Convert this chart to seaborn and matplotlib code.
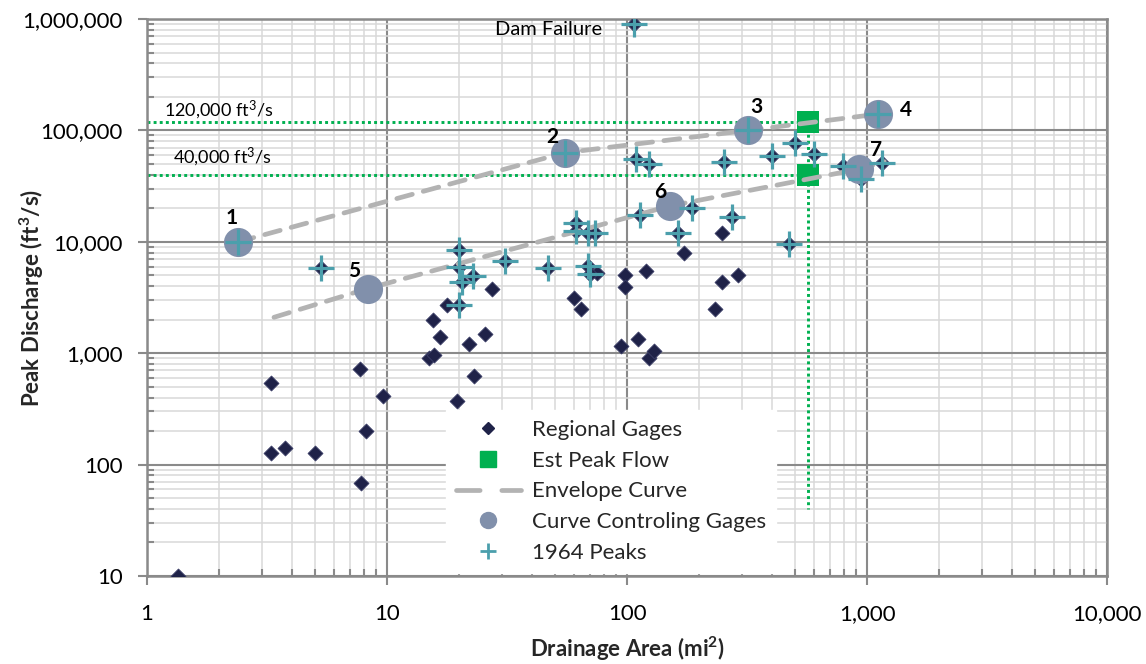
import matplotlib
matplotlib.use("Agg")
import matplotlib.pyplot as plt
from matplotlib.lines import Line2D
from matplotlib.ticker import FixedLocator, FixedFormatter, LogLocator, NullFormatter
import seaborn as sns

# ---- data -------------------------------------------------------------
# Regional gages that are not part of the 1964 flood set (mi², ft³/s)
regional_area = [1.35, 3.3, 3.3, 3.76, 5.0, 7.7, 7.8, 8.2, 9.6, 14.9, 15.7,
                 15.6, 16.6, 17.8, 19.5, 22, 23, 25.6, 27.5, 60, 64, 75, 94,
                 98, 98, 111, 120, 123, 130, 172, 233, 248, 248, 290]
regional_peak = [10, 540, 127, 140, 128, 720, 68, 200, 415, 900, 970,
                 2000, 1400, 2700, 370, 1200, 630, 1500, 3800, 3100, 2500, 5300, 1150,
                 5000, 3900, 1350, 5500, 900, 1040, 8000, 2500, 12000, 4350, 5000]

# Gages with 1964 flood peaks (also regional gages)
peaks1964_area = [2.4, 5.3, 20, 20, 20.6, 22.8, 20, 31, 47, 61, 61, 69, 73.6,
                  69, 70, 55, 107, 109, 124, 113, 163, 186, 254, 273, 318,
                  400, 475, 500, 600, 797, 941, 1150, 1110]
peaks1964_peak = [10000, 5800, 8400, 6000, 4400, 4900, 2700, 6700, 5800, 14800,
                  12400, 12000, 12000, 6100, 5100, 63000, 900000, 55000, 50000,
                  17500, 12000, 20000, 52000, 16600, 100000, 59000, 9600, 77000,
                  61000, 47500, 37000, 51000, 140000]

# Gages controlling the envelope curves
control_ids = ["1", "2", "3", "4", "5", "6", "7"]
control_area = [2.4, 55, 318, 1110, 8.3, 151, 930]
control_peak = [10000, 63000, 100000, 140000, 3800, 21000, 45000]

# Estimated peak flow at the site
est_area = [570, 570]
est_peak = [120000, 40000]
est_labels = ["120,000 ft³/s", "40,000 ft³/s"]
est_guide_floor = 40

# Envelope curves
upper_env_area = [2.4, 55, 318, 1110]
upper_env_peak = [10000, 63000, 100000, 140000]
lower_env_area = [3.38, 8.3, 151, 930, 1180]
lower_env_peak = [2100, 3800, 21000, 45000, 52500]

dam_failure_area = 107
dam_failure_peak = 900000
dam_failure_label = "Dam Failure"

x_ticks = [1, 10, 100, 1000, 10000]
x_tick_labels = ["1", "10", "100", "1,000", "10,000"]
y_ticks = [10, 100, 1000, 10000, 100000, 1000000]
y_tick_labels = ["10", "100", "1,000", "10,000", "100,000", "1,000,000"]

# ---- style ------------------------------------------------------------
NAVY = "#1f2248"
GREEN = "#00b050"
ENV_GRAY = "#b3b3b3"
SLATE = "#8190ab"
TEAL = "#4b9fac"
MAJOR_GRID = "#8a8a8a"
MINOR_GRID = "#d9d9d9"

sns.set_theme(style="white")
plt.rcParams["font.family"] = ["Lato", "DejaVu Sans"]
plt.rcParams["mathtext.default"] = "regular"

fig = plt.figure(figsize=(11.46, 6.64), dpi=100)
ax = fig.add_axes([0.1283, 0.1325, 0.8377, 0.8389])
ax.set_xscale("log")
ax.set_yscale("log")
ax.set_xlim(1, 10000)
ax.set_ylim(10, 1000000)

# grid
ax.xaxis.set_minor_locator(LogLocator(base=10, subs=range(2, 10)))
ax.yaxis.set_minor_locator(LogLocator(base=10, subs=range(2, 10)))
ax.xaxis.set_minor_formatter(NullFormatter())
ax.yaxis.set_minor_formatter(NullFormatter())
ax.grid(which="minor", color=MINOR_GRID, lw=1.1, zorder=0)
ax.grid(which="major", color=MAJOR_GRID, lw=1.5, zorder=0)
ax.set_axisbelow(True)

# estimated flow guide lines
dot = (0, (1, 1.1))
for q in est_peak:
    ax.plot([1, est_area[0]], [q, q], color=GREEN, lw=2.1, ls=dot, zorder=2)
ax.plot([est_area[0], est_area[0]], [max(est_peak), est_guide_floor],
        color=GREEN, lw=2.1, ls=dot, zorder=2)

# regional gages (all)
all_area = regional_area + peaks1964_area
all_peak = regional_peak + peaks1964_peak
sns.scatterplot(x=all_area, y=all_peak, marker="D", s=58, color=NAVY,
                edgecolor="#3a3d66", linewidth=0.6, ax=ax, zorder=3, legend=False)

# estimated peak flows
sns.scatterplot(x=est_area, y=est_peak, marker="s", s=235, color=GREEN,
                edgecolor=GREEN, linewidth=0, ax=ax, zorder=4, legend=False)

# envelope curves
for xs, ys in [(upper_env_area, upper_env_peak), (lower_env_area, lower_env_peak)]:
    sns.lineplot(x=xs, y=ys, sort=False, estimator=None, color=ENV_GRAY,
                 lw=3.4, linestyle=(0, (3.4, 2.4)), dash_capstyle="round",
                 ax=ax, zorder=5, legend=False)

# curve controlling gages
sns.scatterplot(x=control_area, y=control_peak, marker="o", s=440, color=SLATE,
                edgecolor=SLATE, linewidth=0, ax=ax, zorder=6, legend=False)

# 1964 peaks
sns.scatterplot(x=peaks1964_area, y=peaks1964_peak, marker="+", s=340, color=TEAL,
                linewidth=2.3, ax=ax, zorder=7, legend=False)

# gage numbers
num_offsets = [(-5, 17), (-9, 11), (6, 17), (20, 3), (-10, 13), (-7, 10), (12, 14)]
for gid, xa, yp, (dx, dy) in zip(control_ids, control_area, control_peak, num_offsets):
    ax.annotate(gid, (xa, yp), xytext=(dx, dy), textcoords="offset points",
                ha="center", va="center", fontsize=15, fontweight="bold",
                color="black", zorder=8)

# estimated flow labels
label_offsets = [(12, 8.5), (19, 13)]
for text, q, (dx, dy) in zip(est_labels, est_peak, label_offsets):
    ax.annotate(text.replace("³", "$^3$"), (1, q), xytext=(dx, dy),
                textcoords="offset points", ha="left", va="center",
                fontsize=13, color="black", zorder=8)

ax.annotate(dam_failure_label, (dam_failure_area, dam_failure_peak), xytext=(-23, -4),
            textcoords="offset points", ha="right", va="center", fontsize=14.5,
            color="black", zorder=8)

# axes, ticks
ax.xaxis.set_major_locator(FixedLocator(x_ticks))
ax.xaxis.set_major_formatter(FixedFormatter(x_tick_labels))
ax.yaxis.set_major_locator(FixedLocator(y_ticks))
ax.yaxis.set_major_formatter(FixedFormatter(y_tick_labels))
ax.tick_params(which="major", direction="out", length=6.5, width=1.5,
               color=MAJOR_GRID, labelsize=16, labelcolor="black", pad=11,
               bottom=True, left=True)
ax.tick_params(which="minor", direction="in", length=5, width=1.5,
               color=MAJOR_GRID, bottom=True, left=True)
ax.tick_params(axis="x", which="major", pad=14)
for side in ["left", "bottom", "top", "right"]:
    ax.spines[side].set_color(MAJOR_GRID)
    ax.spines[side].set_linewidth(1.8)

ax.set_xlabel("Drainage Area (mi$^2$)", fontsize=16, fontweight="bold")
ax.set_ylabel("Peak Discharge (ft$^3$/s)", fontsize=16, fontweight="bold")
ax.xaxis.set_label_coords(0.5, -0.105)
ax.yaxis.set_label_coords(-0.105, 0.5)

# legend
handles = [
    Line2D([], [], ls="none", marker="D", ms=6.5, color=NAVY),
    Line2D([], [], ls="none", marker="s", ms=11, color=GREEN),
    Line2D([], [], color=ENV_GRAY, lw=3.4, ls=(0, (5.0, 4.6)), dash_capstyle="round"),
    Line2D([], [], ls="none", marker="o", ms=11.5, color=SLATE),
    Line2D([], [], ls="none", marker="+", ms=11, mew=2, color=TEAL),
]
labels = ["Regional Gages", "Est Peak Flow", "Envelope Curve",
          "Curve Controling Gages", "1964 Peaks"]
leg = ax.legend(handles, labels, loc="lower left", bbox_to_anchor=(0.30, -0.014),
                fontsize=16, frameon=True, facecolor="white", edgecolor="white",
                framealpha=1, fancybox=False, handlelength=2.9, handletextpad=0.5,
                labelspacing=0.48, borderpad=0.45)
leg.set_zorder(9)

fig.savefig("out.png", dpi=100)
